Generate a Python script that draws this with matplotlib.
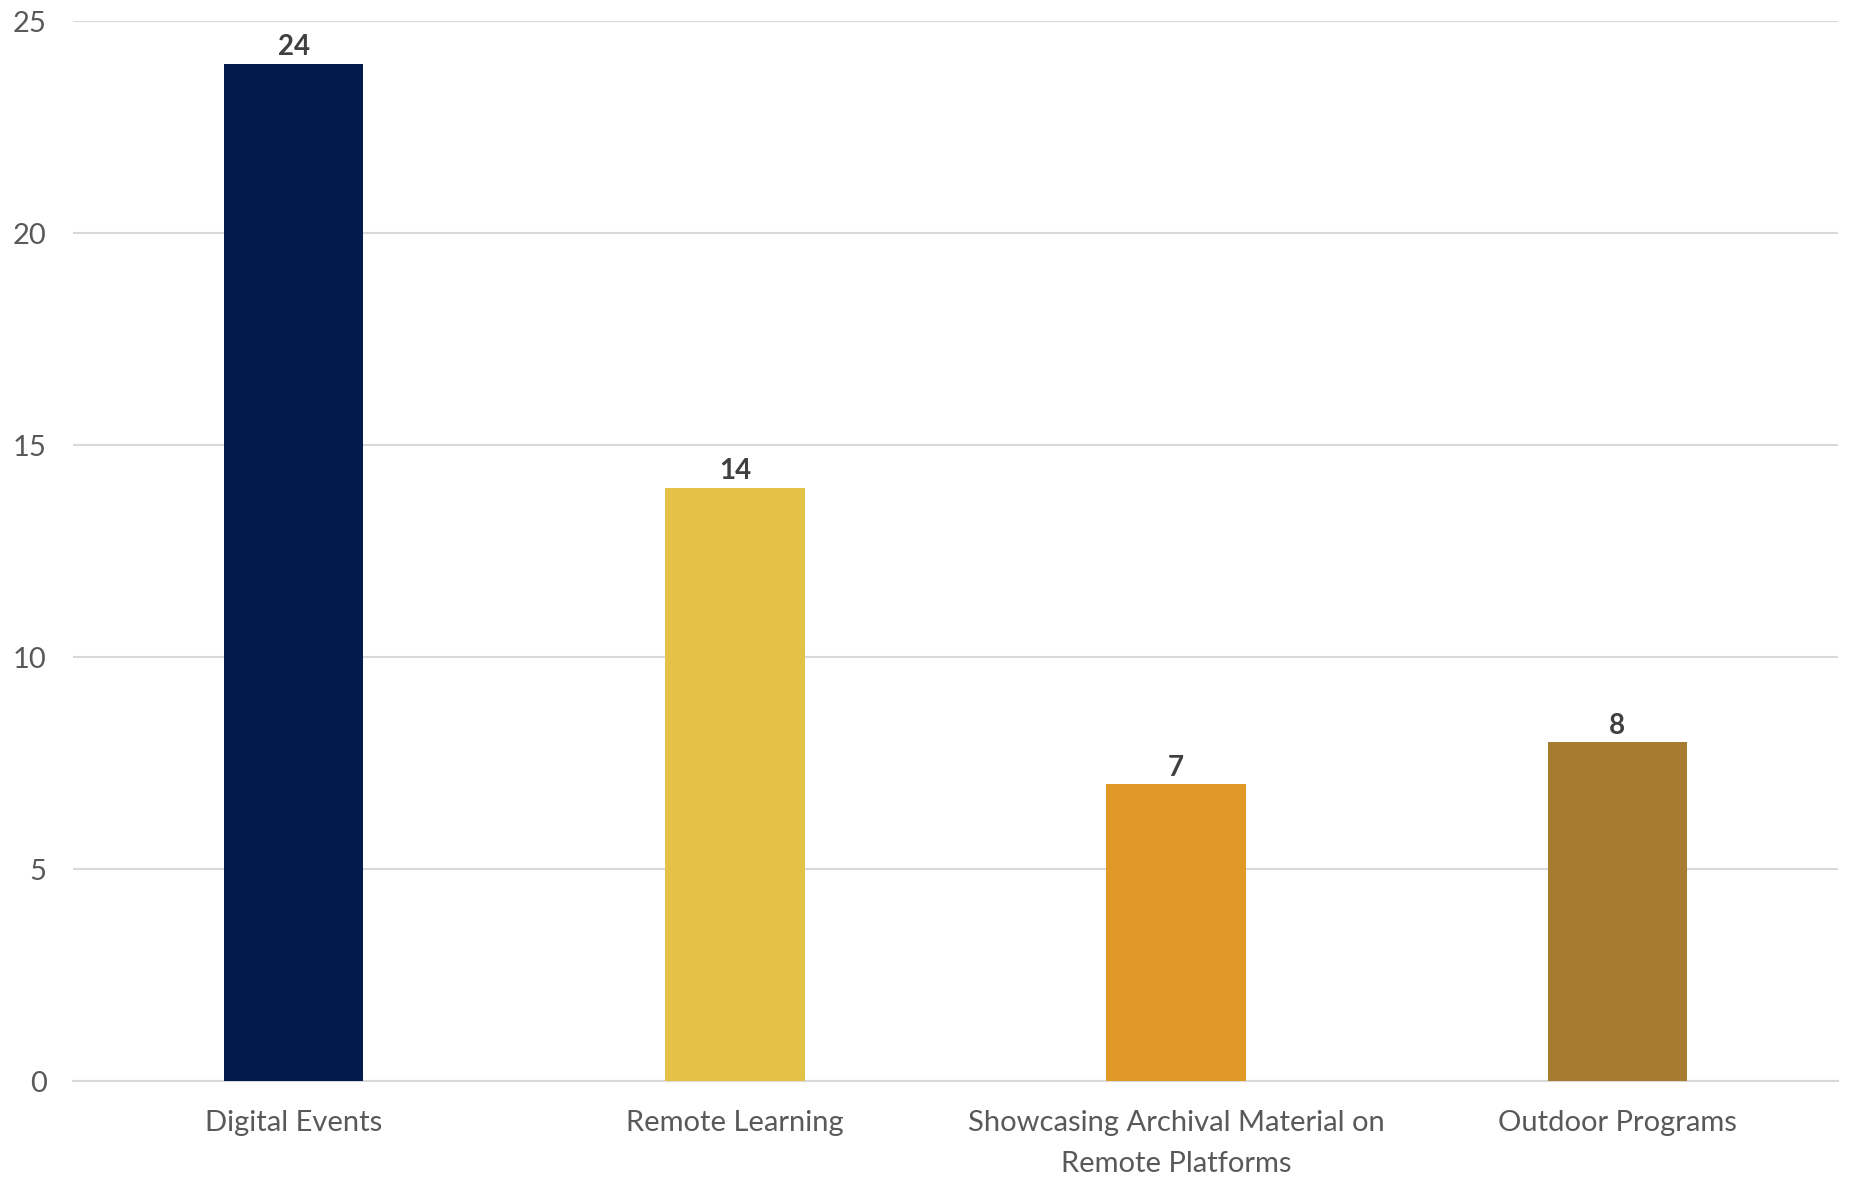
import matplotlib
matplotlib.use("Agg")
import matplotlib.pyplot as plt

categories = ["Digital Events", "Remote Learning",
              "Showcasing Archival Material on\nRemote Platforms", "Outdoor Programs"]
counts = [24, 14, 7, 8]
colors = ["#021B4C", "#E3C247", "#E09827", "#A67D30"]
yticks = [0, 5, 10, 15, 20, 25]

plt.rcParams["font.family"] = ["Lato", "DejaVu Sans"]

fig = plt.figure(figsize=(18.51, 11.78), dpi=100)
ax = fig.add_axes([0.0394, 0.0823, 0.9536, 0.8997])

x = range(len(categories))
bars = ax.bar(x, counts, width=0.316, color=colors, zorder=3)

for b, v in zip(bars, counts):
    ax.text(b.get_x() + b.get_width() / 2, v + 0.08, str(v),
            ha="center", va="bottom", fontsize=20, fontweight="bold",
            color="#404040")

ax.set_xlim(-0.5, len(categories) - 0.5)
ax.set_ylim(0, 25)
ax.set_yticks(yticks)
ax.set_xticks(list(x))
ax.set_xticklabels(categories, linespacing=1.7)
ax.tick_params(axis="both", length=0, labelsize=21, labelcolor="#595959")
ax.tick_params(axis="x", pad=21)
ax.tick_params(axis="y", pad=19)

ax.grid(axis="y", color="#D9D9D9", linewidth=1.5, zorder=0)
for s in ["top", "right", "left"]:
    ax.spines[s].set_visible(False)
ax.spines["bottom"].set_color("#D9D9D9")
ax.spines["bottom"].set_linewidth(1.5)

fig.savefig("out.png", dpi=100)
